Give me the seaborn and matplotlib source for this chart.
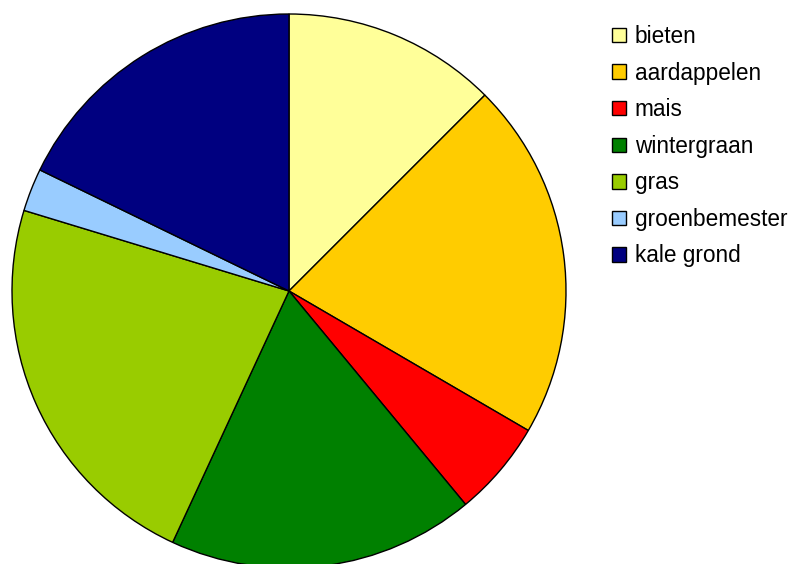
import matplotlib
matplotlib.use("Agg")
import matplotlib.pyplot as plt
from matplotlib.patches import Patch
import seaborn as sns

gewassen = ["bieten", "aardappelen", "mais", "wintergraan", "gras", "groenbemester", "kale grond"]
aandeel = [12.5, 20.9, 5.6, 17.9, 22.8, 2.5, 17.8]
kleuren = ["#FFFF99", "#FFCC00", "#FF0000", "#008000", "#99CC00", "#99CCFF", "#000080"]

sns.set_style("white")
plt.rcParams["font.family"] = ["Liberation Sans", "DejaVu Sans"]
plt.rcParams["text.color"] = "black"

W, H = 795, 564
fig = plt.figure(figsize=(W / 100, H / 100), dpi=100)

# pie: center (289, 291), radius 277 px
cx, cy, r = 289, 291, 277
ax = fig.add_axes([(cx - r) / W, (H - cy - r) / H, 2 * r / W, 2 * r / H])
ax.pie(aandeel, colors=kleuren, startangle=90, counterclock=False,
       wedgeprops={"edgecolor": "black", "linewidth": 1.0})
ax.set_xlim(-1, 1)
ax.set_ylim(-1, 1)
ax.set_aspect("equal")
ax.axis("off")

handles = [Patch(facecolor=k, edgecolor="black", linewidth=1.0) for k in kleuren]
fig.legend(handles, gewassen, loc="upper left", bbox_to_anchor=(612 / W, 1 - 25 / H),
           frameon=False, fontsize=16.3, borderpad=0, borderaxespad=0,
           handlelength=0.6, handleheight=0.6, handletextpad=0.4, labelspacing=0.6)

fig.savefig("out.png", dpi=100)
